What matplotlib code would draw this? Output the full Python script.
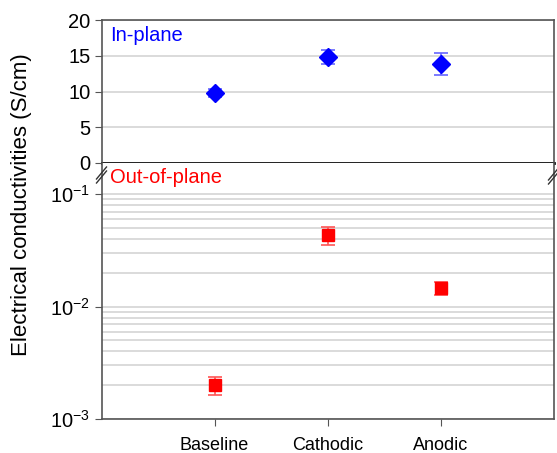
import matplotlib
matplotlib.use("Agg")
import matplotlib.pyplot as plt
import numpy as np
from matplotlib.ticker import FixedLocator, LogLocator, NullFormatter

plt.rcParams['font.family'] = ['Liberation Sans', 'DejaVu Sans']
plt.rcParams['mathtext.fontset'] = 'custom'
plt.rcParams['mathtext.rm'] = 'Liberation Sans'
plt.rcParams['mathtext.it'] = 'Liberation Sans'

categories = ["Baseline", "Cathodic", "Anodic"]
inplane = [9.8, 14.8, 13.85]
inplane_err = [0.6, 1.0, 1.5]
outplane = [0.00199, 0.0434, 0.0147]
outplane_lo = [0.00163, 0.0354, 0.01277]
outplane_hi = [0.00236, 0.0508, 0.0167]
top_ticks = [0, 5, 10, 15, 20]
bottom_ticks = [1e-3, 1e-2, 1e-1]
bottom_labels = ["10$^{\\mathregular{-3}}$", "10$^{\\mathregular{-2}}$", "10$^{\\mathregular{-1}}$"]

W, H = 557, 453
fig = plt.figure(figsize=(W/100, H/100), dpi=100)
left, right = 101.5/W, 553.5/W
ax1 = fig.add_axes([left, 1-163/H, right-left, (163-20)/H])
ax2 = fig.add_axes([left, 1-419/H, right-left, (419-163)/H])

x = np.arange(1, len(categories)+1)
grid_c = '#d4d4d4'
tick_fs = 14.5

# top panel
ax1.errorbar(x, inplane, yerr=inplane_err, fmt='D', color='#0000ff', ms=9,
             ecolor='#6666ff', elinewidth=1.2, capsize=5, capthick=1.2, zorder=3)
ax1.set_xlim(0, 4)
ax1.set_ylim(0, 20)
ax1.set_yticks(top_ticks)
ax1.set_xticks([])
ax1.yaxis.grid(True, color=grid_c, lw=1.2)
ax1.set_axisbelow(True)
ax1.tick_params(axis='y', direction='out', length=5, labelsize=tick_fs, color='#555555', pad=3)
for s in ['top', 'right', 'left']:
    ax1.spines[s].set_color('#555555')
    ax1.spines[s].set_linewidth(1.2)
ax1.spines['bottom'].set_color('#111111')
ax1.spines['bottom'].set_linewidth(2)
ax1.text(0.019, 0.895, "In-plane", transform=ax1.transAxes, color='#0000ff',
         fontsize=14.5, ha='left', va='center')

# bottom panel
ylo = np.array(outplane) - np.array(outplane_lo)
yhi = np.array(outplane_hi) - np.array(outplane)
ax2.errorbar(x, outplane, yerr=[ylo, yhi], fmt='s', color='#ff0000', ms=8.5,
             ecolor='#ff5555', elinewidth=1.2, capsize=5, capthick=1.2, zorder=3)
ax2.set_yscale('log')
ax2.set_xlim(0, 4)
ax2.set_ylim(1e-3, 10**(-1+31.3/112.3))
ax2.yaxis.set_major_locator(FixedLocator(bottom_ticks))
ax2.set_yticklabels(bottom_labels)
ax2.yaxis.set_minor_locator(LogLocator(base=10, subs=np.arange(2, 10)))
ax2.yaxis.set_minor_formatter(NullFormatter())
ax2.yaxis.grid(True, which='both', color=grid_c, lw=1.2)
ax2.set_axisbelow(True)
ax2.tick_params(axis='y', which='major', direction='out', length=5, labelsize=tick_fs, color='#555555', pad=3)
ax2.tick_params(axis='y', which='minor', length=0)
ax2.set_xticks(x)
ax2.set_xticklabels(categories)
ax2.tick_params(axis='x', direction='out', length=5, labelsize=13, color='#555555', pad=8)
for s in ['bottom', 'right', 'left']:
    ax2.spines[s].set_color('#555555')
    ax2.spines[s].set_linewidth(1.2)
ax2.spines['top'].set_visible(False)
ax2.text(0.019, 0.945, "Out-of-plane", transform=ax2.transAxes, color='#ff0000',
         fontsize=14.5, ha='left', va='center')

# break marks
for xp, yb in [(left, 173), (right, 174)]:
    for dy in [0, 4]:
        yc = 1 - (yb + dy) / H
        fig.add_artist(plt.Line2D([xp - 5/W, xp + 5/W], [yc - 6/H, yc + 6/H],
                                  color='#333333', lw=1.0))

fig.text(22/W, 1-205/H, "Electrical conductivities (S/cm)", rotation=90,
         fontsize=16, ha='center', va='center')

fig.savefig("out.png", dpi=100)
